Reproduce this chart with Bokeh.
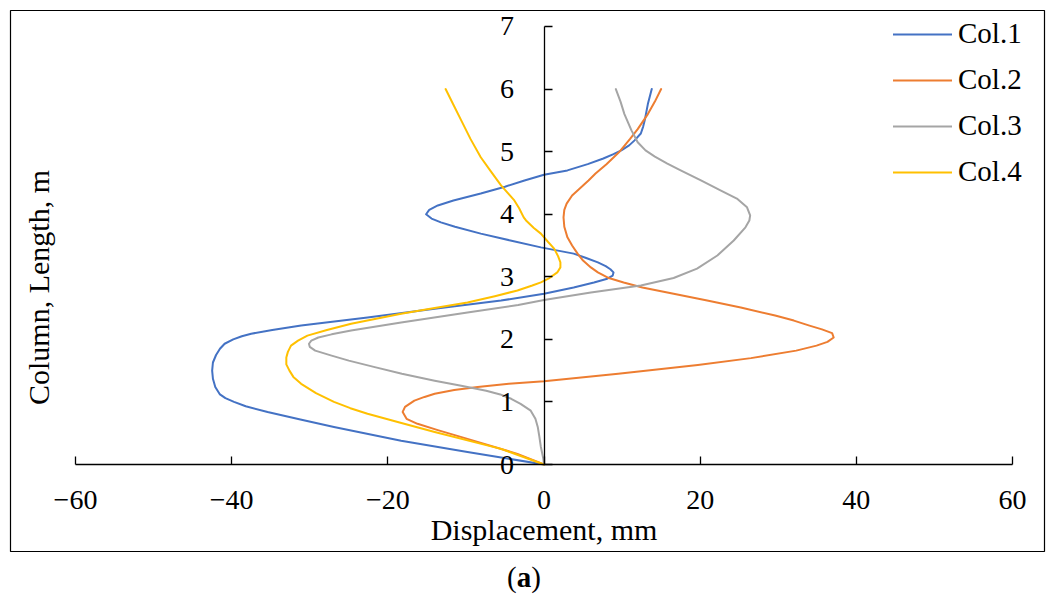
import math
from bokeh.plotting import figure
from bokeh.models import Range1d, FixedTicker, Label, Legend, LegendItem, Div
from bokeh.layouts import column
from bokeh.embed import file_html
from bokeh.resources import INLINE

# ---- data (column height in m, displacement in mm) ----
col1_y = [0.00, 0.10, 0.20, 0.38, 0.60, 0.72, 0.84, 0.93, 1.00, 1.06, 1.12, 1.24, 1.37, 1.50, 1.63,
          1.75, 1.85, 1.93, 2.00, 2.05, 2.09, 2.15, 2.22, 2.35, 2.49, 2.62, 2.73, 2.83, 2.91, 2.97,
          3.02, 3.07, 3.12, 3.17, 3.23, 3.30, 3.37, 3.47, 3.58, 3.69, 3.80, 3.87, 3.93, 4.00, 4.07,
          4.14, 4.22, 4.33, 4.44, 4.54, 4.63, 4.70, 4.80, 4.89, 4.96, 5.02, 5.10, 5.18, 5.29, 5.40,
          5.50, 5.76, 6.00]
col1_x = [0.0, -4.9, -9.8, -18.3, -26.9, -31.2, -35.4, -38.2, -39.7, -40.8, -41.5, -42.1, -42.4, -42.5, -42.4,
          -42.0, -41.5, -40.9, -39.8, -38.7, -37.5, -34.8, -31.1, -22.6, -14.0, -5.5, 0.0, 3.8, 6.4, 8.1,
          8.8, 8.9, 8.5, 7.9, 6.9, 5.4, 3.8, -0.4, -4.3, -8.1, -11.4, -13.2, -14.4, -15.1, -14.7,
          -13.6, -11.6, -8.1, -5.0, -2.5, 0.0, 3.0, 5.6, 7.6, 8.9, 9.9, 10.9, 11.6, 12.4, 12.7,
          12.9, 13.3, 13.8]

col2_y = [0.00, 0.17, 0.41, 0.55, 0.65, 0.73, 0.84, 0.92, 1.02, 1.08, 1.13, 1.19, 1.24, 1.29, 1.33,
          1.45, 1.59, 1.70, 1.82, 1.90, 1.96, 2.03, 2.10, 2.16, 2.22, 2.30, 2.38, 2.51, 2.62, 2.73,
          2.83, 2.91, 2.98, 3.07, 3.15, 3.26, 3.37, 3.50, 3.63, 3.80, 3.95, 4.07, 4.17, 4.30, 4.38,
          4.46, 4.54, 4.65, 4.80, 4.99, 5.20, 5.36, 5.60, 5.80, 6.00]
col2_x = [0.0, -3.4, -9.8, -13.6, -16.2, -17.6, -18.1, -17.8, -16.6, -15.3, -14.0, -11.5, -8.5, -4.5, 0.0,
          9.5, 19.7, 26.5, 32.3, 34.9, 36.3, 37.1, 36.9, 35.6, 34.0, 32.0, 29.6, 25.2, 20.9, 16.6,
          12.6, 10.2, 8.3, 6.9, 6.0, 5.0, 4.3, 3.6, 3.0, 2.6, 2.5, 2.6, 2.9, 3.6, 4.3,
          5.0, 5.7, 6.6, 8.0, 9.6, 11.0, 12.0, 13.3, 14.2, 15.0]

col3_y = [0.00, 0.10, 0.28, 0.45, 0.60, 0.73, 0.86, 0.97, 1.05, 1.12, 1.18, 1.26, 1.34, 1.45, 1.56,
          1.66, 1.74, 1.82, 1.88, 1.93, 1.98, 2.03, 2.08, 2.14, 2.27, 2.43, 2.55, 2.63, 2.75, 2.86,
          2.98, 3.13, 3.34, 3.58, 3.79, 3.90, 3.98, 4.11, 4.25, 4.38, 4.54, 4.70, 4.81, 4.92, 5.02,
          5.15, 5.34, 5.60, 5.80, 6.00]
col3_x = [0.0, -0.1, -0.4, -0.6, -0.8, -1.1, -1.7, -3.0, -4.2, -5.6, -7.4, -10.6, -14.0, -18.2, -21.8,
          -25.0, -27.2, -29.3, -30.0, -30.1, -29.8, -28.9, -27.2, -24.7, -18.3, -9.8, -3.3, 0.0, 6.0, 12.4,
          16.6, 19.6, 22.2, 24.3, 25.8, 26.3, 26.4, 26.0, 24.7, 22.6, 20.1, 17.5, 15.8, 14.2, 13.0,
          12.0, 11.2, 10.3, 9.8, 9.2]

col4_y = [0.00, 0.25, 0.52, 0.67, 0.81, 0.90, 1.00, 1.14, 1.29, 1.40, 1.50, 1.60, 1.71, 1.80, 1.90,
          1.98, 2.06, 2.15, 2.25, 2.33, 2.41, 2.50, 2.59, 2.69, 2.78, 2.86, 2.91, 2.98, 3.07, 3.15,
          3.23, 3.33, 3.45, 3.56, 3.69, 3.78, 3.90, 3.95, 4.10, 4.22, 4.46, 4.70, 4.91, 5.20, 5.50,
          5.75, 6.00]
col4_x = [0.0, -5.5, -14.0, -18.5, -22.6, -24.8, -26.9, -29.2, -31.1, -32.1, -32.6, -33.0, -33.0, -32.8, -32.4,
          -31.5, -30.3, -27.8, -24.7, -21.5, -18.3, -14.0, -9.8, -6.3, -3.4, -1.5, -0.4, 0.7, 1.7, 2.1,
          2.1, 1.8, 1.3, 0.5, -0.4, -1.3, -2.3, -2.6, -3.2, -3.8, -5.5, -6.9, -8.1, -9.4, -10.6,
          -11.6, -12.6]

series_names = ["Col.1", "Col.2", "Col.3", "Col.4"]
series_colors = ["#4472C4", "#ED7D31", "#A5A5A5", "#FFC000"]

x_ticks = [-60, -40, -20, 0, 20, 40, 60]
y_ticks = [0, 1, 2, 3, 4, 5, 6, 7]
x_title = "Displacement, mm"
y_title = "Column, Length, m"

FONT = "Liberation Serif"

p = figure(width=1054, height=556, output_backend="svg", toolbar_location=None,
           x_range=Range1d(-68.3245, 64.098), y_range=Range1d(-1.3904, 7.2557),
           min_border_left=10, min_border_right=10, min_border_top=10, min_border_bottom=5)
p.background_fill_color = "white"
p.border_fill_color = "white"
p.grid.visible = False
p.outline_line_color = "#000000"
p.outline_line_width = 1.2

for ax, ticks, bounds in ((p.xaxis[0], x_ticks, (-60, 60)), (p.yaxis[0], y_ticks, (0, 7))):
    ax.fixed_location = 0
    ax.bounds = bounds
    ax.ticker = FixedTicker(ticks=ticks)
    ax.major_tick_in = 8
    ax.major_tick_out = 0
    ax.minor_tick_line_color = None
    ax.axis_line_color = "black"
    ax.axis_line_width = 1.3
    ax.major_tick_line_color = "black"
    ax.major_tick_line_width = 1.3
    ax.major_label_text_font = FONT
    ax.major_label_text_font_size = "28px"
    ax.major_label_text_color = "black"

p.xaxis[0].major_label_overrides = {t: ("\u2212" + str(abs(t)) if t < 0 else str(t)) for t in x_ticks}
p.xaxis[0].major_label_standoff = 26
p.xaxis[0].axis_label = x_title
p.xaxis[0].axis_label_text_font = FONT
p.xaxis[0].axis_label_text_font_size = "30px"
p.xaxis[0].axis_label_text_font_style = "normal"
p.xaxis[0].axis_label_text_color = "black"
p.xaxis[0].axis_label_standoff = 1
p.yaxis[0].major_label_standoff = 30
p.yaxis[0].major_label_orientation = "horizontal"

renderers = []
for xs, ys, c in ((col1_x, col1_y, series_colors[0]), (col2_x, col2_y, series_colors[1]),
                  (col3_x, col3_y, series_colors[2]), (col4_x, col4_y, series_colors[3])):
    r = p.line(xs, ys, line_color=c, line_width=2, line_join="round", line_cap="round")
    renderers.append(r)

legend = Legend(items=[LegendItem(label=n, renderers=[r]) for n, r in zip(series_names, renderers)],
                location=(883, 363), orientation="vertical")
legend.glyph_width = 59
legend.glyph_height = 28
legend.label_height = 28
legend.label_standoff = 6
legend.spacing = 13
legend.padding = 0
legend.margin = 0
legend.border_line_color = None
legend.background_fill_alpha = 0
legend.label_text_font = FONT
legend.label_text_font_size = "29px"
legend.label_text_color = "black"
p.add_layout(legend)

p.add_layout(Label(x=-64.74, y=2.829, text=y_title, angle=math.pi / 2, text_align="center",
                   text_baseline="middle", text_font=FONT, text_font_size="30px", text_color="black"))

caption = Div(text='<div style="width:1046px;padding-right:8px;text-align:center;'
                   'font-family:\'Liberation Serif\';font-size:29px;line-height:32px;color:black;">'
                   '(<b>a</b>)</div>',
              width=1054, height=44)

layout = column(p, caption, spacing=0)
open("out.html", "w").write(file_html(layout, INLINE))
